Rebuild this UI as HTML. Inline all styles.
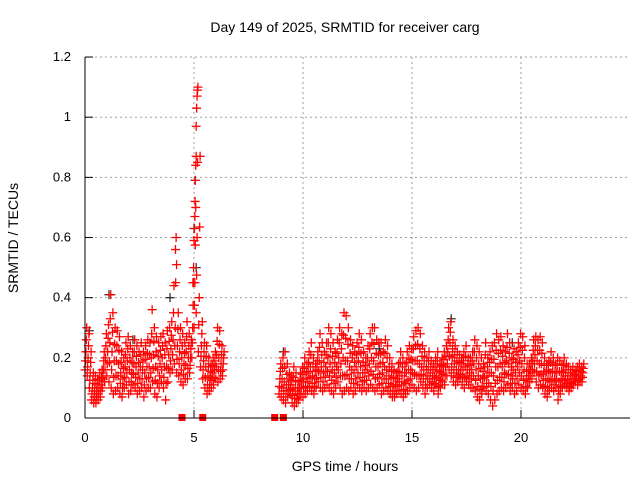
<!DOCTYPE html>
<html><head><meta charset="utf-8"><style>
body{margin:0;background:#fff}
svg{display:block;font-family:"Liberation Sans",sans-serif}
</style></head><body>
<svg id="chart" width="640" height="480" viewBox="0 0 640 480">
<rect width="640" height="480" fill="#fff"/>
<text x="345" y="32" font-size="14" text-anchor="middle">Day 149 of 2025, SRMTID for receiver carg</text>
<text transform="translate(18,238) rotate(-90)" font-size="14" text-anchor="middle">SRMTID / TECUs</text>
<text x="345" y="471" font-size="14" text-anchor="middle">GPS time / hours</text>
<g id="grid"></g><g id="ticks"></g><g id="black"></g><g id="red"></g><g id="marks"></g>
<line x1="85" y1="57" x2="85" y2="418" stroke="#000"/>
<line x1="85" y1="418" x2="630" y2="418" stroke="#000"/>
</svg>
<script>
const yTicks=[0,0.2,0.4,0.6,0.8,1,1.2];
const yTickLabels=["0","0.2","0.4","0.6","0.8","1","1.2"];
const xTicks=[0,5,10,15,20];
const seg1Start=0.0, seg2Start=8.9, step=0.1;
const seg1Hi=[0.30,0.28,0.22,0.15,0.14,0.13,0.15,0.16,0.22,0.28,0.31,0.41,0.35,0.30,0.29,0.27,0.22,0.20,0.25,0.27,0.24,0.22,0.26,0.24,0.22,0.25,0.22,0.24,0.26,0.25,0.36,0.30,0.27,0.25,0.27,0.28,0.25,0.29,0.30,0.32,0.44,0.60,0.35,0.30,0.28,0.25,0.32,0.28,0.26,0.45,0.70,1.10,0.87,0.32,0.25,0.24,0.20,0.18,0.20,0.22,0.30,0.29,0.24,0.22];
const seg1Mid=[0.22,0.20,0.15,0.10,0.09,0.09,0.10,0.11,0.16,0.20,0.22,0.25,0.22,0.19,0.19,0.18,0.15,0.13,0.17,0.19,0.16,0.15,0.18,0.17,0.15,0.17,0.16,0.15,0.17,0.17,0.20,0.21,0.17,0.16,0.18,0.20,0.17,0.17,0.21,0.23,0.26,0.30,0.24,0.22,0.20,0.18,0.22,0.20,0.20,0.30,0.45,0.60,0.40,0.24,0.19,0.17,0.14,0.13,0.15,0.16,0.21,0.20,0.18,0.18];
const seg1Lo=[0.16,0.14,0.10,0.06,0.05,0.05,0.06,0.07,0.10,0.12,0.14,0.12,0.10,0.08,0.09,0.10,0.08,0.07,0.10,0.11,0.08,0.09,0.11,0.10,0.08,0.09,0.10,0.07,0.09,0.10,0.10,0.12,0.08,0.07,0.10,0.12,0.10,0.06,0.12,0.15,0.16,0.18,0.15,0.14,0.12,0.11,0.13,0.13,0.15,0.20,0.30,0.35,0.22,0.17,0.13,0.10,0.08,0.09,0.10,0.11,0.13,0.12,0.13,0.14];
const seg2Hi=[0.18,0.20,0.22,0.18,0.15,0.14,0.17,0.15,0.12,0.15,0.17,
0.20,0.18,0.22,0.25,0.20,0.18,0.22,0.28,0.25,0.22,
0.25,0.30,0.28,0.25,0.22,0.26,0.30,0.28,0.35,0.34,
0.30,0.26,0.24,0.22,0.25,0.28,0.26,0.22,0.20,0.24,
0.28,0.30,0.30,0.26,0.25,0.25,0.22,0.26,0.24,0.20,
0.18,0.16,0.15,0.18,0.22,0.20,0.18,0.22,0.24,0.23,
0.27,0.29,0.30,0.28,0.24,0.22,0.20,0.22,0.19,0.18,
0.20,0.22,0.18,0.20,0.22,0.24,0.30,0.32,0.26,0.24,
0.22,0.21,0.20,0.22,0.24,0.20,0.20,0.22,0.26,0.24,
0.22,0.20,0.18,0.25,0.20,0.22,0.24,0.25,0.28,0.26,
0.27,0.24,0.22,0.28,0.25,0.20,0.23,0.22,0.25,0.28,
0.27,0.24,0.18,0.18,0.20,0.26,0.27,0.26,0.27,0.25,
0.20,0.18,0.19,0.22,0.20,0.18,0.20,0.19,0.18,0.20,
0.18,0.17,0.16,0.17,0.16,0.17,0.18,0.17,0.18];
const seg2Mid=[0.13,0.13,0.12,0.11,0.11,0.11,0.10,0.09,0.08,0.10,0.12,
0.13,0.13,0.15,0.17,0.14,0.13,0.16,0.19,0.17,0.15,
0.17,0.20,0.18,0.16,0.15,0.17,0.20,0.18,0.20,0.19,
0.19,0.17,0.16,0.15,0.17,0.19,0.17,0.15,0.15,0.16,
0.18,0.20,0.19,0.17,0.17,0.18,0.15,0.17,0.16,0.14,
0.13,0.11,0.11,0.13,0.15,0.14,0.12,0.15,0.16,0.16,
0.19,0.19,0.19,0.18,0.17,0.16,0.14,0.16,0.15,0.14,
0.14,0.16,0.13,0.15,0.17,0.17,0.22,0.25,0.20,0.18,
0.16,0.16,0.16,0.16,0.17,0.16,0.15,0.16,0.18,0.16,
0.14,0.13,0.13,0.17,0.14,0.15,0.15,0.14,0.17,0.17,
0.18,0.17,0.15,0.19,0.18,0.14,0.16,0.15,0.17,0.19,
0.18,0.16,0.13,0.14,0.16,0.19,0.21,0.19,0.18,0.18,
0.15,0.13,0.13,0.15,0.15,0.13,0.15,0.12,0.13,0.15,
0.14,0.13,0.12,0.13,0.13,0.14,0.14,0.14,0.15];
const seg2Lo=[0.08,0.07,0.06,0.05,0.07,0.08,0.05,0.04,0.05,0.06,0.08,
0.07,0.08,0.09,0.10,0.09,0.08,0.10,0.12,0.10,0.09,
0.10,0.11,0.10,0.09,0.08,0.10,0.12,0.10,0.08,0.09,
0.10,0.09,0.10,0.08,0.09,0.11,0.10,0.09,0.10,0.09,
0.10,0.11,0.10,0.09,0.10,0.11,0.08,0.09,0.10,0.09,
0.08,0.07,0.07,0.08,0.09,0.08,0.07,0.08,0.09,0.10,
0.11,0.10,0.09,0.10,0.12,0.10,0.08,0.10,0.11,0.10,
0.09,0.11,0.08,0.10,0.12,0.11,0.14,0.16,0.14,0.12,
0.11,0.12,0.13,0.11,0.10,0.12,0.11,0.10,0.10,0.09,
0.07,0.06,0.08,0.10,0.09,0.08,0.06,0.04,0.06,0.08,
0.09,0.10,0.09,0.10,0.11,0.09,0.10,0.08,0.09,0.11,
0.10,0.09,0.08,0.10,0.12,0.13,0.15,0.12,0.10,0.11,
0.10,0.08,0.07,0.09,0.10,0.09,0.10,0.06,0.08,0.10,
0.11,0.10,0.09,0.10,0.11,0.12,0.11,0.12,0.12];
const spikeTimes=[4.95,4.98,5.0,5.02,5.04,5.05,5.06,5.08,5.1,5.1,5.12,5.14,5.16,4.2,4.15];
const spikeValues=[0.45,0.50,0.59,0.63,0.67,0.72,0.79,0.84,0.87,0.97,1.03,1.07,1.09,0.51,0.56];
const blackTimes=[1.1,3.9,5.0,5.05,5.1,0.2,2.2,9.1,16.8,13.5,19.6];
const blackValues=[0.41,0.40,0.63,0.79,0.50,0.29,0.26,0.22,0.33,0.23,0.25];
const gapTimes=[4.45,5.4,8.7,9.1];
const NS="http://www.w3.org/2000/svg";
const X=t=>85+t*21.8, Y=v=>418-v*300.8;
function mk(tag,parent,attrs){const e=document.createElementNS(NS,tag);for(const k in attrs)e.setAttribute(k,attrs[k]);parent.appendChild(e);return e;}
const grid=document.getElementById('grid'),ticks=document.getElementById('ticks');
yTicks.forEach((v,i)=>{
  if(v>0){const g=mk('line',grid,{x1:85,x2:630,y1:Y(v),y2:Y(v),stroke:'#a0a0a0','stroke-dasharray':'2,3'});
  
  }
  mk('line',ticks,{x1:85,x2:93,y1:Y(v),y2:Y(v),stroke:'#000'});
  const t=mk('text',ticks,{x:71,y:Y(v)+4,'font-size':13,'text-anchor':'end'});t.textContent=yTickLabels[i];
  
  
});
xTicks.forEach(v=>{
  if(v>0){const g=mk('line',grid,{x1:X(v),x2:X(v),y1:57,y2:418,stroke:'#a0a0a0','stroke-dasharray':'2,3'});
  
  }
  mk('line',ticks,{x1:X(v),x2:X(v),y1:418,y2:410,stroke:'#000'});
  const t=mk('text',ticks,{x:X(v),y:442,'font-size':13,'text-anchor':'middle'});t.textContent=String(v);
  
  
});
function plus(g,t,v,col,name){const x=X(t),y=Y(v);
  const p=mk('path',g,{d:`M${x-4.5},${y}h9M${x},${y-4.5}v9`,stroke:col,'stroke-width':1.3,fill:'none'});
  
  }
const blk=document.getElementById('black'),red=document.getElementById('red');
blackTimes.forEach((t,i)=>plus(blk,t,blackValues[i],'#333','black-point'));
[[seg1Start,seg1Lo,seg1Mid,seg1Hi],[seg2Start,seg2Lo,seg2Mid,seg2Hi]].forEach(([s,lo,mid,hi])=>{
  for(let i=0;i<hi.length;i++){const t=s+i*step;
    const vals=[lo[i],(lo[i]+mid[i])/2,mid[i],(mid[i]+hi[i])/2,hi[i]];
    vals.forEach((v,k)=>plus(red,t+k*0.02,v,'#f00','srmtid-point'));}
});
spikeTimes.forEach((t,i)=>plus(red,t,spikeValues[i],'#f00','srmtid-spike-point'));
const marks=document.getElementById('marks');
gapTimes.forEach(t=>{const r=mk('rect',marks,{x:X(t)-3.5,y:414,width:7,height:7,fill:'#f00'});
  
  });
</script>
</body></html>
